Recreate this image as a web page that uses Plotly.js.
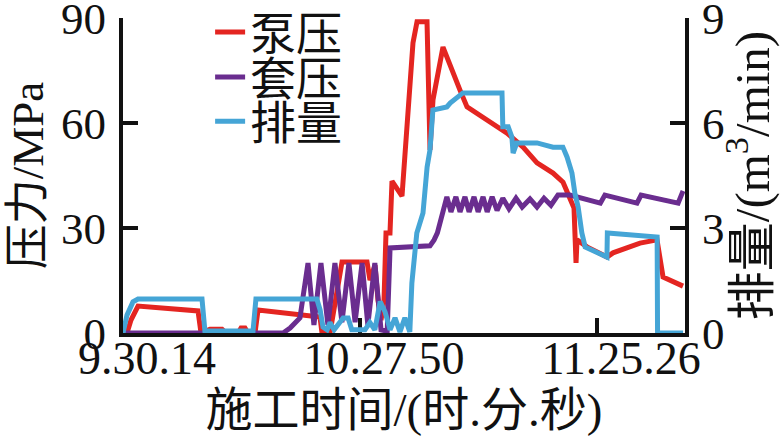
<!DOCTYPE html>
<html>
<head>
<meta charset="utf-8">
<script src="https://cdn.plot.ly/plotly-3.0.1.min.js"></script>
<style>html,body{margin:0;padding:0;background:#fff;}#chart{width:780px;height:444px;}</style>
</head>
<body>
<div id="chart"></div>
<script>
// elapsed minutes since 9:30:14
const tickMinutes = [0, 57.6, 115.2];
const tickLabels = ['9.30.14', '10.27.50', '11.25.26'];

// 泵压 (MPa)
const pumpTime = [0.97,1.94,3.65,18.23,18.96,21.14,24.06,25.03,27.95,28.68,29.65,30.38,32.08,32.81,47.87,48.36,50.30,51.76,53.22,59.30,60.02,61.24,61.97,62.70,63.43,63.91,64.88,65.37,66.34,67.80,70.47,71.45,73.88,74.61,75.33,77.76,81.89,83.60,93.32,97.21,100.61,104.50,106.93,108.63,109.60,110.09,110.33,112.76,117.62,119.08,125.64,129.77,130.50,131.23,136.09];
const pumpPressure = [0,3.7,7.7,6.3,0,1.1,1.1,0,0,1.4,1.4,0,0,6.6,4.6,0,0,9.4,20.3,20.3,15.1,19.4,9.4,3.7,9.4,28.6,28.6,43.4,41.4,39.1,82.9,88.9,88.9,52.3,66.6,81.7,69.4,64.6,57.1,53.1,48.6,45.7,43.1,38.0,35.7,20.0,26.6,24.6,21.7,22.9,25.7,26.6,20.3,16.0,13.4];

// 套压 (MPa)
const casingTime = [0,38.9,40.6,43.0,44.96,46.4,48.1,49.8,51.5,53.2,54.9,56.4,58.1,59.5,61.2,62.7,64.2,64.9,74.6,75.6,76.4,78.7,79.7,80.9,81.9,83.1,84.1,85.3,86.3,87.5,88.5,89.7,90.9,92.3,93.8,95.5,97.0,98.9,100.6,102.3,104.0,105.7,108.6,116.0,117.1,124.9,125.9,134.9,136.1];
const casingPressure = [0,0,1.4,4.3,20,2.3,20,2.3,20,3.1,20,3.1,20,2.3,20,0.9,0.5,24.3,24.9,26.6,28.6,38.9,34.6,38.9,34.6,38.9,34.6,38.9,34.6,38.9,34.6,38.9,35,38.5,35.5,38.5,36,38.3,36,38.5,36.5,39.4,39.4,37.1,39.4,37.1,39.4,37.1,40.6];

// 排量 (m3/min)
const rateTime = [0,0.49,0.97,2.43,3.65,19.2,19.9,31.6,32.3,47.1,47.9,48.6,49.6,50.3,51.3,53.5,54.7,55.6,58.8,60.0,61.2,62.5,63.7,64.9,66.1,67.3,68.5,69.7,70.2,71.4,72.9,73.9,74.6,75.3,78.7,79.5,81.9,82.6,92.1,92.3,93.6,94.5,94.8,95.7,100.6,104.5,106.9,107.9,109.1,109.8,110.6,111.5,112.3,117.6,117.7,129.8,129.9,136.1];
const rateValue = [0,0.23,0.51,0.89,0.97,0.97,0.06,0.06,0.97,0.97,0.66,0.17,0.09,0.3,0.09,0.43,0.43,0.09,0.09,0.3,0.09,0.9,0.6,0.09,0.43,0.03,0.43,0.03,1.43,2.86,3.43,4.74,5.23,6.37,6.46,6.57,6.8,6.86,6.86,5.89,5.89,5.6,5.14,5.43,5.43,5.31,5.31,5.03,4.57,4.0,3.6,2.86,2.46,2.17,2.86,2.74,0,0];

const seriesNames = ['泵压', '套压', '排量'];
const seriesColors = ['#e42521', '#6a2d8f', '#45a5d6'];

const FONT = '"Liberation Serif", "Times New Roman", "Noto Sans CJK SC", serif';
const LW = 5;

const traces = [
  {x: pumpTime, y: pumpPressure, name: seriesNames[0], mode: 'lines', line: {color: seriesColors[0], width: LW}, yaxis: 'y', legend: 'legend'},
  {x: casingTime, y: casingPressure, name: seriesNames[1], mode: 'lines', line: {color: seriesColors[1], width: LW}, yaxis: 'y', legend: 'legend2'},
  {x: rateTime, y: rateValue, name: seriesNames[2], mode: 'lines', line: {color: seriesColors[2], width: LW}, yaxis: 'y2', legend: 'legend3'}
];

function leg(y) {
  return {x: 0.155, y: y, xanchor: 'left', yanchor: 'middle',
          bgcolor: 'rgba(0,0,0,0)', font: {family: FONT, size: 46, color: '#111'}, borderwidth: 0};
}

const layout = {
  width: 780, height: 444,
  margin: {l: 123, r: 95, t: 18, b: 111, autoexpand: false},
  paper_bgcolor: '#fff', plot_bgcolor: '#fff',
  showlegend: true,
  legend: leg(0.955), legend2: leg(0.812), legend3: leg(0.672),
  font: {family: FONT, size: 45, color: '#111'},
  xaxis: {
    range: [0, 136.57], tickvals: tickMinutes, ticktext: tickLabels,
    showline: true, linecolor: '#111', linewidth: 4, mirror: false,
    ticks: 'inside', ticklen: 15, tickwidth: 4, tickcolor: '#111',
    showgrid: false, zeroline: false, layer: 'below traces',
    ticklabelshift: 24, ticklabelstandoff: -18, ticklabeloverflow: 'allow',
    tickfont: {family: FONT, size: 46, color: '#111'},
    title: {text: '施工时间/(时.分.秒)', font: {family: FONT, size: 47, color: '#111'}, standoff: 4}
  },
  yaxis: {
    range: [0, 90], tickvals: [0, 30, 60, 90],
    showline: true, linecolor: '#111', linewidth: 4,
    ticks: 'inside', ticklen: 15, tickwidth: 4, tickcolor: '#111',
    showgrid: false, zeroline: false, layer: 'below traces',
    ticklabelstandoff: 4, ticklabeloverflow: 'allow',
    tickfont: {family: FONT, size: 45, color: '#111'},
    title: {text: '压力/MPa', font: {family: FONT, size: 45, color: '#111'}, standoff: 4}
  },
  yaxis2: {
    range: [0, 9], tickvals: [0, 3, 6, 9], overlaying: 'y', side: 'right',
    showline: true, linecolor: '#111', linewidth: 4,
    ticks: 'inside', ticklen: 15, tickwidth: 4, tickcolor: '#111',
    showgrid: false, zeroline: false, layer: 'below traces',
    ticklabelstandoff: 4, ticklabeloverflow: 'allow',
    tickfont: {family: FONT, size: 45, color: '#111'},
    title: {text: '排量/(m<sup>3</sup>/min)', font: {family: FONT, size: 49, color: '#111'}, standoff: 4}
  }
};

Plotly.newPlot('chart', traces, layout, {displayModeBar: false, staticPlot: true});
</script>
</body>
</html>
